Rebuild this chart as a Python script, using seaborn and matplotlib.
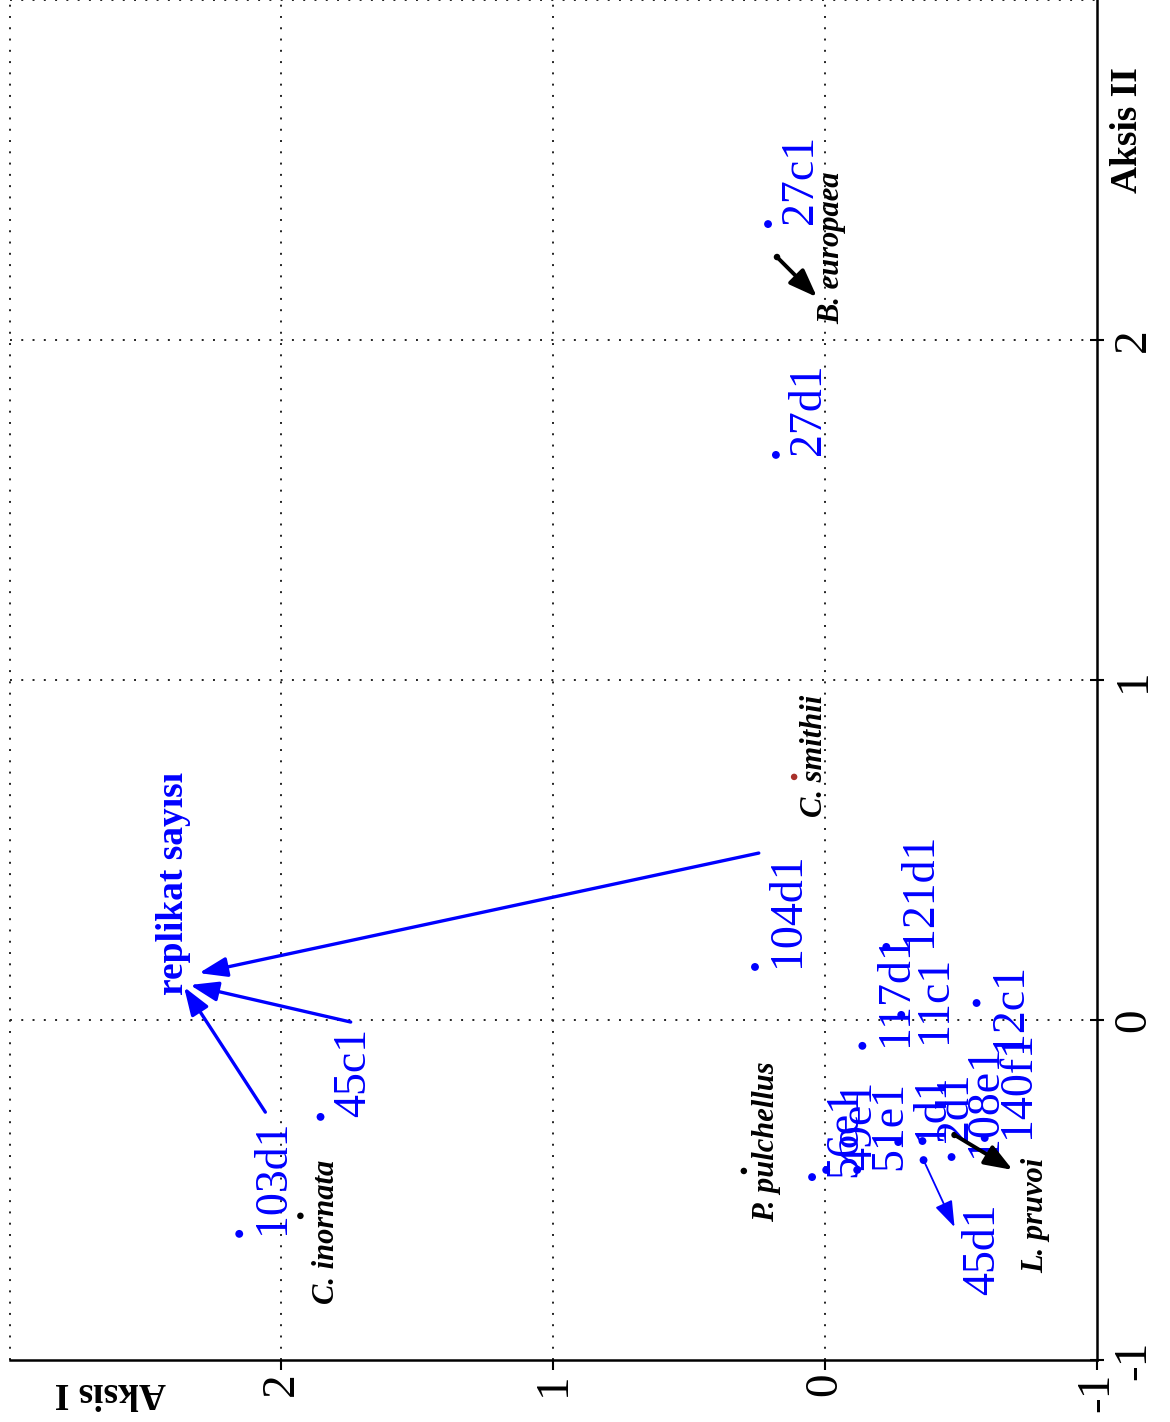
import matplotlib
matplotlib.use("Agg")
import matplotlib.pyplot as plt
import numpy as np
import pandas as pd
import seaborn as sns

# ---- sample scores (Aksis I, Aksis II) ----
sample_names = ["27c1", "27d1", "104d1", "45c1", "103d1", "121d1", "117d1", "11c1",
                "12c1", "56e1", "49e1", "51e1", "1d1", "2d1", "45d1", "108e1", "140f1"]
sample_ax1 = [0.210, 0.181, 0.258, 1.856, 2.155, -0.225, -0.137, -0.280,
              -0.557, 0.048, -0.004, -0.118, -0.269, -0.358, -0.362, -0.465, -0.587]
sample_ax2 = [2.341, 1.662, 0.156, -0.285, -0.629, 0.215, -0.076, 0.015,
              0.050, -0.462, -0.441, -0.441, -0.359, -0.356, -0.412, -0.403, -0.347]

# ---- species scores ----
species_names = ["C. inornata", "P. pulchellus", "C. smithii", "B. europaea", "L. pruvoi"]
species_ax1 = [1.930, 0.299, 0.114, 0.177, -0.476]
species_ax2 = [-0.576, -0.444, 0.715, 2.244, -0.338]

# ---- environmental variable ----
env_name = "replikat sayısı"
env_ax1 = 2.362
env_ax2 = 0.074
env_tail_ax1 = [0.244, 1.745, 2.059]
env_tail_ax2 = [0.491, -0.006, -0.271]
env_head_ax1 = [2.303, 2.336, 2.358]
env_head_ax2 = [0.138, 0.103, 0.097]

# ---- label pointers ----
pointer_species = ["B. europaea", "L. pruvoi"]
pointer_head_ax1 = [0.030, -0.690]
pointer_head_ax2 = [2.126, -0.441]
moved_sample = "45d1"
moved_head_ax1 = -0.476
moved_head_ax2 = -0.609

# ---- axes ----
tick_values = [-1, 0, 1, 2]
grid_levels = [0, 1, 2, 3]

samples = pd.DataFrame({"name": sample_names, "aksis1": sample_ax1, "aksis2": sample_ax2})
species = pd.DataFrame({"name": species_names, "aksis1": species_ax1, "aksis2": species_ax2})

sns.set_theme(style="white")
plt.rcParams["font.family"] = ["Liberation Serif", "DejaVu Serif"]
plt.rcParams["axes.unicode_minus"] = False

fig = plt.figure(figsize=(11.7, 14.22), dpi=100)
ax = fig.add_axes([9.5 / 1170, 1 - 1360 / 1422, 1087.5 / 1170, 1360 / 1422])

BLUE = "#0000ff"

# dotted reference grid
for g in grid_levels:
    ax.axvline(g, color="#222222", lw=1.4, ls=(0, (1, 4.8)), zorder=0, clip_on=False)
    ax.axhline(g, color="#222222", lw=1.4, ls=(0, (1, 4.8)), zorder=0, clip_on=False)

# points
sns.scatterplot(data=samples, x="aksis1", y="aksis2", color=BLUE, s=32,
                edgecolor="none", ax=ax, legend=False, zorder=3)
species_colors = ["black", "black", "#a8302a", "black", "black"]
sns.scatterplot(data=species, x="aksis1", y="aksis2", hue="name",
                palette=dict(zip(species_names, species_colors)), s=22,
                edgecolor="none", ax=ax, legend=False, zorder=3)

# sample labels
default_offset = (32, 0)
label_offsets = {moved_sample: (51, -97), "12c1": (32, -35), "11c1": (32, -20)}
for name, x, y in zip(sample_names, sample_ax1, sample_ax2):
    ax.annotate(name, (x, y), xytext=label_offsets.get(name, default_offset),
                textcoords="offset points", rotation=90, rotation_mode="anchor",
                ha="left", va="baseline", color=BLUE, fontsize=33, zorder=4)

# moved label pointer
i = sample_names.index(moved_sample)
ax.annotate("", xy=(moved_head_ax1, moved_head_ax2),
            xytext=(sample_ax1[i], sample_ax2[i]),
            arrowprops=dict(arrowstyle="-|>,head_length=0.8,head_width=0.28",
                            color=BLUE, lw=1.3, shrinkA=0, shrinkB=0,
                            mutation_scale=20), zorder=4)

# species labels
species_offsets = [(24.5, -11.5), (22, 21), (20, 15), (45, 6.5), (64, -57.6)]
for name, x, y, off in zip(species_names, species_ax1, species_ax2, species_offsets):
    ax.annotate(name, (x, y), xytext=off, textcoords="offset points",
                rotation=90, rotation_mode="anchor", ha="center", va="baseline",
                color="black", fontsize=22, fontweight="bold", fontstyle="italic",
                zorder=4)

for name, hx, hy in zip(pointer_species, pointer_head_ax1, pointer_head_ax2):
    j = species_names.index(name)
    ax.annotate("", xy=(hx, hy), xytext=(species_ax1[j], species_ax2[j]),
                arrowprops=dict(arrowstyle="-|>,head_length=0.85,head_width=0.32",
                                color="black", lw=2.8, shrinkA=0, shrinkB=0,
                                mutation_scale=20), zorder=4)

# environmental variable arrows
for tx, ty, hx, hy in zip(env_tail_ax1, env_tail_ax2, env_head_ax1, env_head_ax2):
    ax.annotate("", xy=(hx, hy), xytext=(tx, ty),
                arrowprops=dict(arrowstyle="-|>,head_length=0.85,head_width=0.3",
                                color=BLUE, lw=2.4, shrinkA=0, shrinkB=0,
                                mutation_scale=20), zorder=4)
ax.text(env_ax1, env_ax2, env_name, rotation=90, rotation_mode="anchor",
        ha="left", va="baseline", color=BLUE, fontsize=27, fontweight="bold", zorder=5)

# axes
ax.set_xlim(3, -1)
ax.set_ylim(-1, 3)
ax.set_xticks(tick_values)
ax.set_yticks(tick_values)
ax.set_xticklabels([str(t) for t in tick_values])
ax.set_yticklabels([str(t) for t in tick_values])
ax.yaxis.tick_right()
ax.set_xlabel("")
ax.set_ylabel("")
for side in ["left", "top"]:
    ax.spines[side].set_visible(False)
for side in ["bottom", "right"]:
    ax.spines[side].set_visible(True)
    ax.spines[side].set_color("black")
    ax.spines[side].set_linewidth(1.8)
ax.tick_params(axis="x", bottom=True, direction="out", length=7, width=1.5,
               pad=2, labelsize=34, labelrotation=90, colors="black")
ax.tick_params(axis="y", right=True, left=False, labelright=True, labelleft=False,
               direction="inout", length=10, width=1.5, pad=6, labelsize=34,
               labelrotation=90, colors="black")
for lbl in ax.get_yticklabels():
    lbl.set_va("center")

ax.text(0.0924, -0.024, "Aksis I", transform=ax.transAxes, rotation=180,
        ha="center", va="center", fontsize=27, fontweight="bold", color="black")
ax.text(1.0285, 0.904, "Aksis II", transform=ax.transAxes, rotation=90,
        ha="center", va="center", fontsize=27, fontweight="bold", color="black")

fig.savefig("out.png", dpi=100, facecolor="white")
